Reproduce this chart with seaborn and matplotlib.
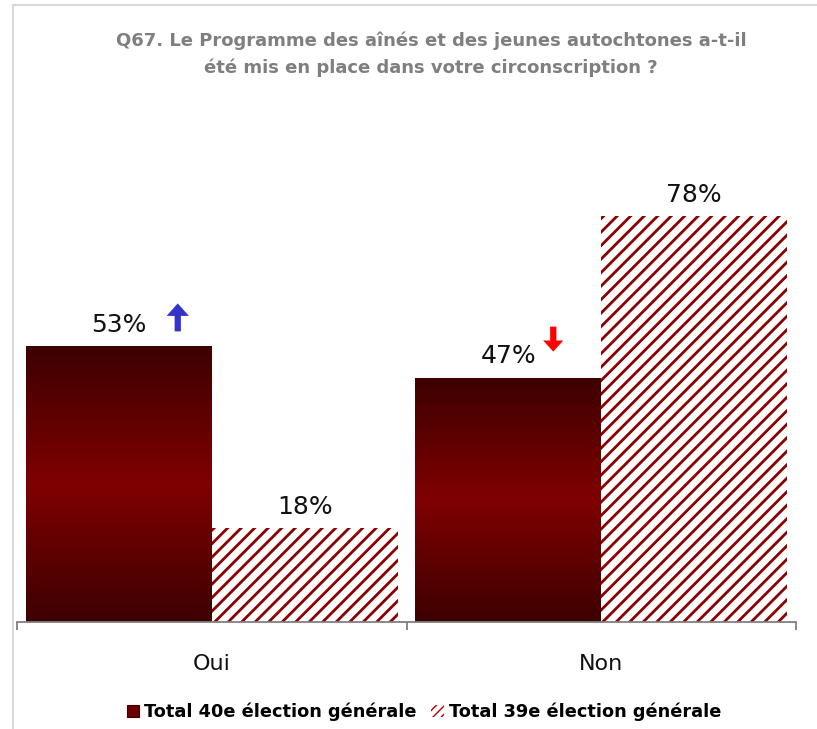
import numpy as np
import pandas as pd
import matplotlib
matplotlib.use("Agg")
import matplotlib.pyplot as plt
import seaborn as sns
from matplotlib.colors import LinearSegmentedColormap
from matplotlib.patches import Patch, Rectangle
from matplotlib.lines import Line2D
from matplotlib.transforms import IdentityTransform, offset_copy

# ---- data ----
categories = ["Oui", "Non"]
series = ["Total 40e élection générale", "Total 39e élection générale"]
values_40e = [53, 47]
values_39e = [18, 78]
changes_40e = ["up", "down"]
title = ("Q67. Le Programme des aînés et des jeunes autochtones a-t-il\n"
         "été mis en place dans votre circonscription ?")

df = pd.DataFrame({
    "Réponse": categories * 2,
    "Série": [series[0]] * len(categories) + [series[1]] * len(categories),
    "Valeur": values_40e + values_39e,
})

sns.set_theme(style="white")
plt.rcParams["font.family"] = ["DejaVu Sans"]

W, H = 817, 729
fig = plt.figure(figsize=(W / 100, H / 100), dpi=100)
fig.patch.set_facecolor("white")
ax = fig.add_axes([17 / W, 107 / H, 779 / W, 520 / H])

sns.barplot(data=df, x="Réponse", y="Valeur", hue="Série", order=categories,
            hue_order=series, palette=["#800000", "#ffffff"], width=0.955,
            gap=0, saturation=1, errorbar=None, legend=False, ax=ax,
            linewidth=0)

# gradient fill for 40e bars
cmap = LinearSegmentedColormap.from_list("grad", ["#3d0000", "#800000", "#3d0000"])
grad = np.linspace(0, 1, 256).reshape(-1, 1)
for bar in ax.containers[0]:
    x0, w, h = bar.get_x(), bar.get_width(), bar.get_height()
    im = ax.imshow(grad, cmap=cmap, extent=[x0, x0 + w, 0, h], origin="lower",
                   aspect="auto", zorder=bar.get_zorder() + 0.1,
                   interpolation="bilinear")
    im.set_clip_path(bar)

ax.set_xlim(-0.5, 1.5)
ax.set_ylim(0, 100)

# diagonal stripes for 39e bars
spacing = 13.5
for bar in ax.containers[1]:
    bar.set_facecolor("white")
    x0, w, h = bar.get_x(), bar.get_width(), bar.get_height()
    (px0, py0) = ax.transData.transform((x0, 0))
    (px1, py1) = ax.transData.transform((x0 + w, h))
    Hh = py1 - py0
    c = px0 - Hh - spacing
    while c < px1 + spacing:
        ln = Line2D([c, c + Hh + 4], [py0 - 2, py0 + Hh + 2], transform=IdentityTransform(),
                    color="#8b0000", lw=2.0, solid_capstyle="butt",
                    zorder=bar.get_zorder() + 0.1)
        ax.add_line(ln)
        ln.set_clip_path(bar)
        c += spacing

# value labels
for cont in ax.containers:
    for bar in cont:
        xc = bar.get_x() + bar.get_width() / 2
        h = bar.get_height()
        ax.annotate(f"{h:.0f}%", (xc, h), xytext=(0, 10.5), textcoords="offset points",
                    ha="center", va="baseline", fontsize=18, color="#111111")

# change arrows next to 40e labels
for bar, ch in zip(ax.containers[0], changes_40e):
    xc = bar.get_x() + bar.get_width() / 2
    h = bar.get_height()
    if ch == "up":
        tip = offset_copy(ax.transData, fig=fig, x=59, y=43, units="dots")
        tail = offset_copy(ax.transData, fig=fig, x=59, y=15, units="dots")
        col = "#3333cc"
        style = "simple,head_width=1.6,head_length=0.9,tail_width=0.45"
    else:
        tip = offset_copy(ax.transData, fig=fig, x=45, y=26, units="dots")
        tail = offset_copy(ax.transData, fig=fig, x=45, y=51, units="dots")
        col = "#ff0000"
        style = "simple,head_width=1.45,head_length=0.8,tail_width=0.45"
    ax.annotate("", xy=(xc, h), xycoords=tip, xytext=(xc, h), textcoords=tail,
                arrowprops=dict(arrowstyle=style, color=col, mutation_scale=10,
                                shrinkA=0, shrinkB=0, lw=0))

# axes styling
ax.set_xlabel("")
ax.set_ylabel("")
ax.set_yticks([])
for s in ["left", "right", "top"]:
    ax.spines[s].set_visible(False)
ax.spines["bottom"].set_color("#808080")
ax.spines["bottom"].set_linewidth(1.3)
ax.set_xticks([-0.5, 0.5, 1.5], labels=["", "", ""])
ax.set_xticks([0, 1], labels=categories, minor=True)
ax.tick_params(axis="x", which="major", bottom=True, length=6, width=1.3,
               color="#808080", direction="out")
ax.tick_params(axis="x", which="minor", bottom=True, length=0, pad=23,
               labelsize=16, labelcolor="#111111")

# title
fig.text(431 / W, 1 - 32 / H, title, ha="center", va="top", fontsize=13,
         fontweight="bold", color="#7f7f7f", linespacing=1.55)

# legend
handles = [Patch(facecolor="#6a0000", edgecolor="#3d0000", linewidth=0.8),
           Patch(facecolor="white", edgecolor="#b00000", hatch="////", linewidth=0)]
fig.legend(handles, series, loc="center", bbox_to_anchor=(424 / W, 17 / H),
           ncol=2, frameon=False, handlelength=0.7, handleheight=0.7,
           handletextpad=0.3, columnspacing=0.8,
           prop=dict(size=12.8, weight="bold"), labelcolor="black")

# outer frame
fig.add_artist(Rectangle((13 / W, -0.05), 1.0, 1.05 - 5 / H, transform=fig.transFigure,
                         fill=False, edgecolor="#d9d9d9", lw=1.5))

fig.savefig("out.png", dpi=100)
